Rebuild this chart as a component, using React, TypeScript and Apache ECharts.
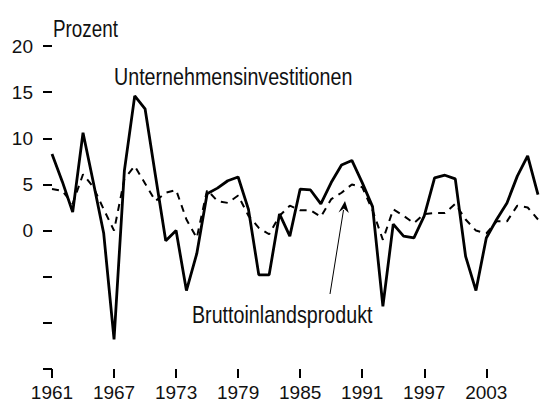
import React, { useEffect, useRef } from "react";
import * as echarts from "echarts";

const years: string[] = Array.from({ length: 48 }, (_, i) => String(1961 + i));

const investitionen: number[] = [
  8.3, 5.3, 2.0, 10.6, 5.2, -0.3, -11.8, 6.5, 14.6, 13.2,
  6.0, -1.1, 0.0, -6.5, -2.5, 4.0, 4.6, 5.4, 5.8, 2.3,
  -4.8, -4.8, 1.8, -0.6, 4.5, 4.4, 2.9, 5.2, 7.1, 7.6,
  5.2, 2.6, -8.2, 0.7, -0.6, -0.8, 1.6, 5.7, 6.0, 5.6,
  -2.8, -6.5, -0.8, 1.2, 3.0, 5.9, 8.1, 3.9,
];

const bip: number[] = [
  4.5, 4.3, 2.9, 6.1, 4.7, 2.3, 0.0, 5.6, 7.0, 5.1,
  3.2, 4.1, 4.4, 1.2, -0.8, 4.4, 3.2, 3.0, 3.8, 1.6,
  0.3, -0.4, 1.6, 2.7, 2.2, 2.2, 1.5, 3.4, 4.1, 5.0,
  4.7, 2.2, -1.0, 2.3, 1.6, 0.8, 1.8, 1.9, 1.9, 2.9,
  1.2, 0.0, -0.3, 1.0, 1.0, 2.7, 2.5, 1.2,
];

const yMin = -15;
const yMax = 20;
const yStep = 5;

const FONT = "'Liberation Sans', Arial, sans-serif";
const NARROW = 0.82;

export default function App() {
  const ref = useRef<HTMLDivElement>(null);

  useEffect(() => {
    if (!ref.current) return;
    const chart = echarts.init(ref.current, null, { renderer: "svg" });
    chart.setOption({
      animation: false,
      backgroundColor: "#ffffff",
      grid: { left: 52, right: 2, top: 46, bottom: 36, containLabel: false },
      xAxis: {
        type: "category",
        data: years,
        boundaryGap: false,
        position: "bottom",
        axisLine: { show: false, onZero: false },
        axisTick: {
          show: true,
          interval: 5,
          length: 9,
          lineStyle: { color: "#000", width: 2 },
        },
        axisLabel: {
          interval: 5,
          margin: 14,
          color: "#111",
          fontSize: 19,
          fontFamily: FONT,
        },
        splitLine: { show: false },
      },
      yAxis: {
        type: "value",
        min: yMin,
        max: yMax,
        interval: yStep,
        axisLine: { show: false },
        axisTick: {
          show: true,
          length: 9,
          lineStyle: { color: "#000", width: 2 },
        },
        axisLabel: {
          margin: 19,
          color: "#111",
          fontSize: 19,
          fontFamily: FONT,
          formatter: (v: number) => (v < 0 ? "" : String(v)),
        },
        splitLine: { show: false },
      },
      series: [
        {
          name: "Unternehmensinvestitionen",
          type: "line",
          data: investitionen,
          symbol: "none",
          lineStyle: { color: "#000", width: 2.8, type: "solid" },
          z: 3,
        },
        {
          name: "Bruttoinlandsprodukt",
          type: "line",
          data: bip,
          symbol: "none",
          lineStyle: { color: "#000", width: 2, type: [7, 6] },
          z: 2,
        },
      ],
      graphic: [
        {
          type: "text",
          x: 53,
          y: 17,
          scaleX: NARROW,
          style: { text: "Prozent", fontSize: 23, fontFamily: FONT, fill: "#111", verticalAlign: "top" },
        },
        {
          type: "text",
          x: 114,
          y: 65,
          scaleX: NARROW,
          style: { text: "Unternehmensinvestitionen", fontSize: 24, fontFamily: FONT, fill: "#111", verticalAlign: "top" },
        },
        {
          type: "text",
          x: 192,
          y: 303,
          scaleX: NARROW,
          style: { text: "Bruttoinlandsprodukt", fontSize: 24, fontFamily: FONT, fill: "#111", verticalAlign: "top" },
        },
        {
          type: "line",
          shape: { x1: 330, y1: 294, x2: 343.5, y2: 210 },
          style: { stroke: "#000", lineWidth: 1 },
        },
        {
          type: "polygon",
          shape: { points: [[345, 201], [338.5, 212.5], [343.8, 208.5], [348.8, 213]] },
          style: { fill: "#000" },
        },
      ],
    });
    return () => chart.dispose();
  }, []);

  return (
    <div
      ref={ref}
      style={{ position: "fixed", left: 0, top: 0, width: 540, height: 405 }}
    />
  );
}
